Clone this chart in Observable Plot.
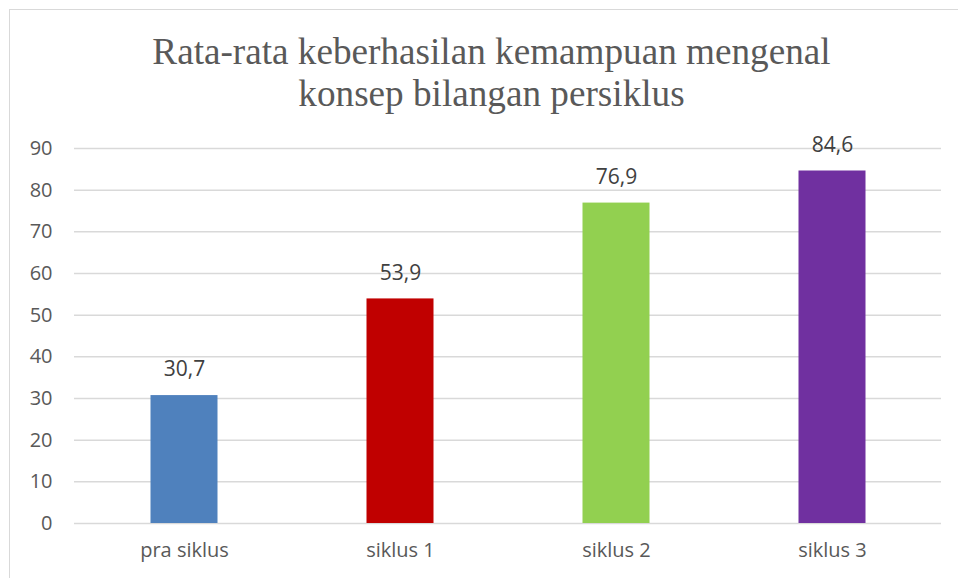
<!DOCTYPE html>
<html>
<head>
<meta charset="utf-8">
<script src="https://cdn.jsdelivr.net/npm/d3@7"></script>
<script src="https://cdn.jsdelivr.net/npm/@observablehq/plot@0.6"></script>
<style>
  html, body { margin: 0; padding: 0; background: #fff; }
  #wrap { position: relative; width: 958px; height: 578px; overflow: hidden; }
  #frame { position: absolute; left: 9px; top: 9px; width: 960px; height: 600px; border: 1px solid #d9d9d9; box-sizing: border-box; }
  #title { position: absolute; left: 0; top: 30.5px; width: 983px; text-align: center;
           font-family: "Liberation Serif", serif; font-size: 37px; line-height: 42px; color: #595959;
           transform: scaleX(1.005); transform-origin: 491.5px 0; }
  #chart { position: absolute; left: 0; top: 0; }
</style>
</head>
<body>
<div id="wrap">
  <div id="frame"></div>
  <div id="title">Rata-rata keberhasilan kemampuan mengenal<br>konsep bilangan persiklus</div>
  <div id="chart"></div>
</div>
<script>
const categories = ["pra siklus", "siklus 1", "siklus 2", "siklus 3"];
const values = [30.7, 53.9, 76.9, 84.6];
const colors = ["#4f81bd", "#c00000", "#92d050", "#7030a0"];
const yTicks = [0, 10, 20, 30, 40, 50, 60, 70, 80, 90];

const data = categories.map((c, i) => ({cat: c, value: values[i], color: colors[i]}));
const fmt = v => v.toFixed(1).replace(".", ",");

const chart = Plot.plot({
  width: 958,
  height: 578,
  marginTop: 148,
  marginBottom: 55,
  marginLeft: 74,
  marginRight: 17,
  style: {fontFamily: "'Open Sans', sans-serif", fontSize: "20px", color: "#595959", background: "transparent"},
  x: {domain: categories, padding: 0, label: null},
  y: {domain: [0, 90], label: null},
  marks: [
    Plot.gridY(yTicks, {stroke: "#d9d9d9", strokeOpacity: 1, strokeWidth: 1.5}),
    Plot.axisY(yTicks, {tickSize: 0, tickPadding: 22, fill: "#595959", fontSize: 20, label: null}),
    Plot.axisX({tickSize: 0, tickPadding: 19, fill: "#595959", fontSize: 20, label: null}),
    Plot.barY(data, {x: "cat", y: "value", fill: "color", insetLeft: 74.5, insetRight: 74.5}),
    Plot.text(data, {x: "cat", y: "value", text: d => fmt(d.value), dy: -26, fill: "#404040", fontSize: 21})
  ]
});
document.getElementById("chart").appendChild(chart);
</script>
</body>
</html>
